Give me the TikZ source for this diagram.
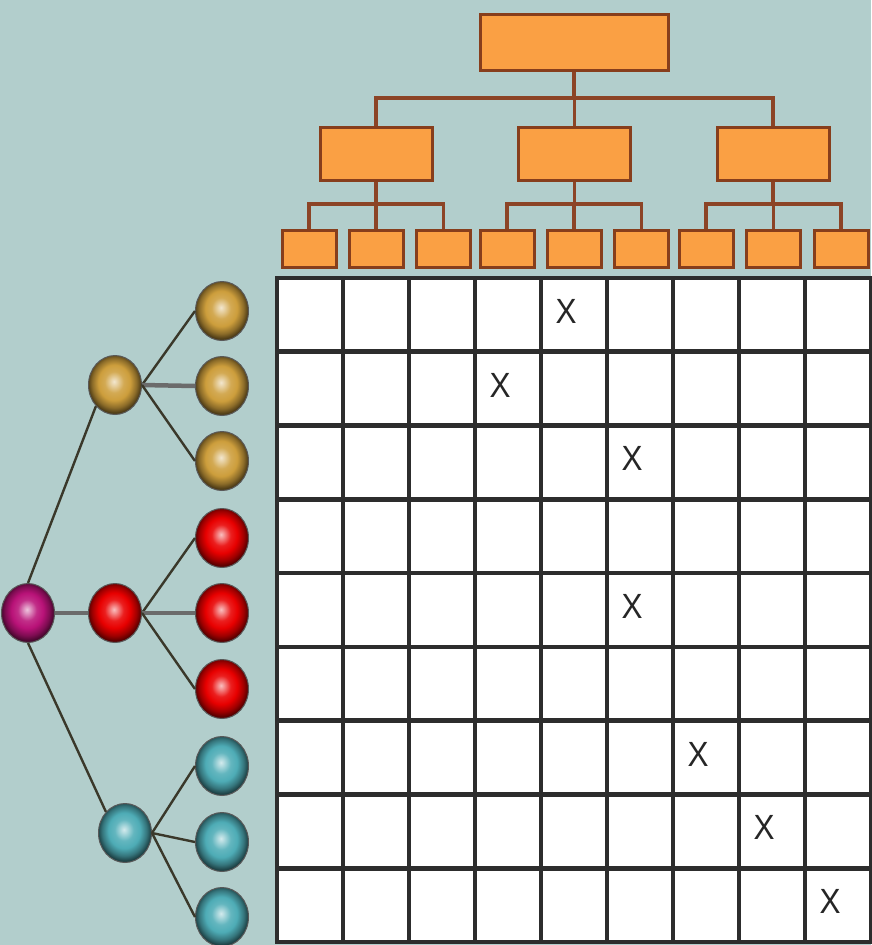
\documentclass[tikz,border=0pt]{standalone}
\usepackage{fontspec}
\setmainfont{Liberation Sans}
\usetikzlibrary{shapes.geometric}
\definecolor{bgc}{RGB}{178,206,204}
\definecolor{boxfill}{RGB}{250,160,68}
\definecolor{boxline}{RGB}{135,62,28}
\definecolor{connc}{RGB}{140,68,38}
\definecolor{gridc}{RGB}{45,45,45}
\definecolor{goldc}{RGB}{205,158,60}
\definecolor{redc}{RGB}{232,0,0}
\definecolor{magc}{RGB}{185,18,120}
\definecolor{tealc}{RGB}{78,172,182}
\definecolor{linkc}{RGB}{58,56,42}
\newcommand{\mkball}[2]{%
  \pgfdeclareradialshading{#1}{\pgfpoint{-1bp}{3bp}}{%
    color(0bp)=(#2!25!white); color(3bp)=(#2!45!white); color(9bp)=(#2!88!white);
    color(15bp)=(#2); color(21bp)=(#2!68!black); color(25bp)=(#2!38!black);
    color(50bp)=(#2!38!black)}}
\mkball{goldball}{goldc}
\mkball{redball}{redc}
\mkball{magball}{magc}
\mkball{tealball}{tealc}
\begin{document}
\begin{tikzpicture}[x=1pt,y=-1pt,
  obox/.style={draw=boxline,line width=3pt,fill=boxfill,inner sep=0pt},
  rootbox/.style={obox,minimum width=188pt,minimum height=56pt},
  midbox/.style={obox,minimum width=112pt,minimum height=53pt},
  leafbox/.style={obox,minimum width=54pt,minimum height=37pt},
  conn/.style={draw=connc,line width=3.4pt},
  sph/.style={ellipse,inner sep=0pt,minimum width=53pt,minimum height=59pt,draw=black!65,line width=1pt},
  link/.style={draw=linkc,line width=2.4pt},
  hlink/.style={draw=black!58,line width=4.5pt},
  xmark/.style={font=\fontsize{35}{35}\selectfont,inner sep=0pt,text=black!85}
]
\useasboundingbox (0,0) rectangle (871,945);
\fill[bgc] (0,0) rectangle (871,945);

% top hierarchy
\node[rootbox] (root) at (574,42) {};
\node[midbox] (m1) at (376,153.5) {};
\node[midbox] (m2) at (574.5,153.5) {};
\node[midbox] (m3) at (773,153.5) {};
\foreach \i/\x in {1/309,2/376,3/443.5,4/507,5/574,6/641.5,7/706,8/773.5,9/841}
  \node[leafbox] (l\i) at (\x,249) {};
\coordinate (h1) at (0,98);
\coordinate (h2) at (0,204);
\draw[conn] (root.south) -- (root.south |- h1);
\draw[conn] (m1.north) |- (m3.north |- h1) -- (m3.north);
\draw[conn] (m2.north) -- (m2.north |- h1);
\foreach \m/\a/\b/\c in {m1/l1/l2/l3,m2/l4/l5/l6,m3/l7/l8/l9}{
  \draw[conn] (\m.south) -- (\m.south |- h2);
  \draw[conn] (\a.north) |- (\c.north |- h2) -- (\c.north);
  \draw[conn] (\b.north) -- (\b.north |- h2);
}
% redraw boxes over connectors
\node[rootbox] at (root) {};
\foreach \m in {m1,m2,m3} \node[midbox] at (\m) {};
\foreach \i in {1,...,9} \node[leafbox] at (l\i) {};

% grid
\fill[white] (277,278) rectangle (871,942);
\foreach \j in {0,...,9} \draw[gridc,line width=4.6pt] ({277+66*\j},276) -- ({277+66*\j},944);
\foreach \i in {0,...,9} \draw[gridc,line width=4.6pt] (275,{278+73.78*\i}) -- (873,{278+73.78*\i});
\foreach \n/\c/\r in {x1/5/1,x2/4/2,x3/6/3,x4/6/5,x5/7/7,x6/8/8,x7/9/9}
  \node[xmark] (\n) at ({244+66*\c-8},{278+73.78*(\r-0.5)-3.5}) {\scalebox{0.9}[1]{X}};

% spheres
\node[sph,shading=magball] (r) at (28,613) {};
\node[sph,shading=goldball] (g) at (115,385) {};
\node[sph,shading=redball] (d) at (115,613) {};
\node[sph,shading=tealball] (t) at (125,833) {};
\draw[link] (r.north) -- (g.south west);
\draw[link] (r.south) -- (t.north west);
\draw[hlink] (r.east) -- (d.west);
\foreach \k/\y in {1/311,2/386,3/461} \node[sph,shading=goldball] (g\k) at (222,\y) {};
\foreach \k/\y in {1/538,2/613,3/689} \node[sph,shading=redball] (d\k) at (222,\y) {};
\foreach \k/\y in {1/766,2/842,3/917} \node[sph,shading=tealball] (t\k) at (222,\y) {};
\draw[link] (g.east) -- (g1.west);
\draw[hlink] (g.east) -- (g2.west);
\draw[link] (g.east) -- (g3.west);
\draw[link] (d.east) -- (d1.west);
\draw[hlink] (d.east) -- (d2.west);
\draw[link] (d.east) -- (d3.west);
\draw[link] (t.east) -- (t1.west);
\draw[link] (t.east) -- (t2.west);
\draw[link] (t.east) -- (t3.west);
\end{tikzpicture}
\end{document}
